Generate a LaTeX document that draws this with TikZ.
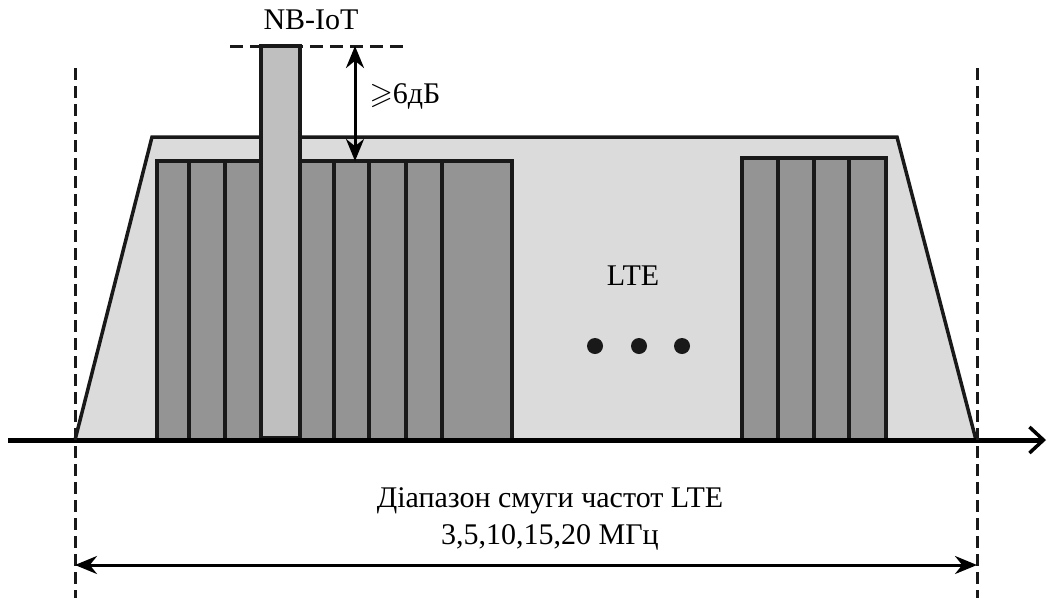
\documentclass[tikz,border=0pt]{standalone}
\usepackage{amssymb}
\usepackage{fontspec}
\setmainfont{Liberation Serif}
\usetikzlibrary{arrows.meta, calc}
\tikzset{
    bandfill/.style={draw=black!90, fill=black!14, line width=3.5pt},
    rbfill/.style={draw=black!90, fill=black!42, line width=3.5pt},
    nbfill/.style={draw=black!90, fill=black!25, line width=3.5pt},
    sepline/.style={draw=black!90, line width=3.5pt},
    guide/.style={draw=black!90, line width=3pt, dash pattern=on 12pt off 6pt},
    lbl/.style={font=\fontsize{30}{37}\selectfont, inner sep=0pt, align=center},
    dotmark/.style={circle, fill=black!90, minimum size=16pt, inner sep=0pt},
}

\begin{document}
\begin{tikzpicture}[
    x=1pt, y=-1pt,
    >={Stealth[length=22pt, width=18pt]},
]
\useasboundingbox (0,0) rectangle (1048,598);

% LTE band
\draw[bandfill] (75,440) -- (152,137) -- (897,137) -- (976,440) -- cycle;

% resource blocks
\draw[rbfill] (157,161) rectangle (512,440);
\foreach \x in {189,225,334,369,406,442}
    \draw[sepline] (\x,161) -- (\x,440);
\draw[rbfill] (742,158) rectangle (886,440);
\foreach \x in {778,814,849}
    \draw[sepline] (\x,158) -- (\x,440);

% NB-IoT carrier
\draw[nbfill] (261,46) rectangle (300,438);
\draw[guide, dash pattern=on 13pt off 7pt] (230,46) -- (403,46);

\coordinate (lvltop) at (355,46);
\coordinate (lvlbot) at (355,161);
\draw[<->, line width=3pt] (lvltop) -- (lvlbot);

% frequency axis
\coordinate (axstart) at (8,440);
\coordinate (axend) at (1046,440);
\draw[line width=5pt, -{Straight Barb[length=14pt, width=26pt, line width=3.5pt]}] (axstart) -- (axend);

% band edges
\coordinate (edgeL) at (75,68);
\coordinate (edgeR) at (977,68);
\draw[guide] (edgeL) -- (75,598);
\draw[guide] (edgeR) -- (977,598);

\coordinate (spanL) at (75,565);
\coordinate (spanR) at (977,565);
\draw[<->, line width=3pt] (spanL) -- (spanR);

% labels
\node[lbl] (nbiot) at (311,20) {NB-IoT};
\node[lbl] (gap) at (405,96) {$\geqslant$6дБ};
\node[lbl] (lte) at (633,276) {LTE};
\node[dotmark] (d1) at (595,346) {};
\node[dotmark] (d2) at (639,346) {};
\node[dotmark] (d3) at (682,346) {};
\node[lbl] (range) at (550,519) {Діапазон смуги частот LTE\\3,5,10,15,20 МГц};
\end{tikzpicture}
\end{document}
